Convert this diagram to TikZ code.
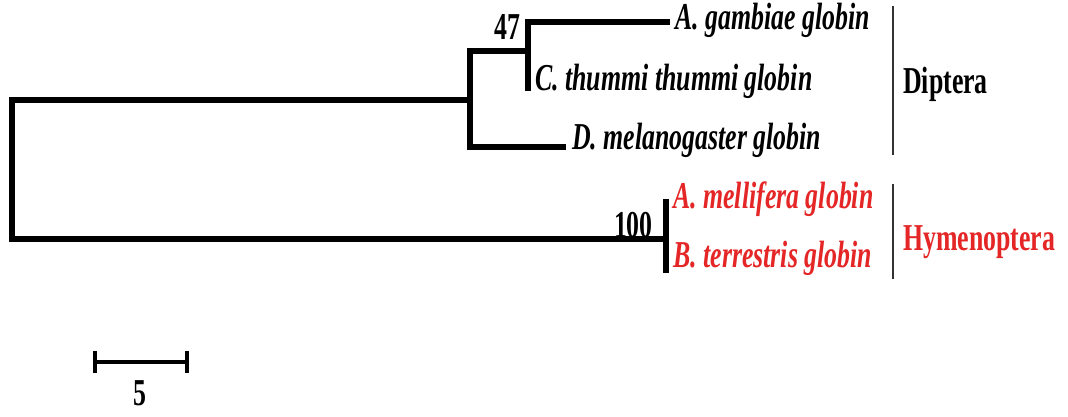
\documentclass[tikz,border=0pt]{standalone}
\usepackage{fontspec}
\setmainfont{Liberation Serif}[FakeStretch=0.68]
\definecolor{hymred}{RGB}{228,38,38}
\definecolor{sepgray}{RGB}{50,50,50}
\begin{document}
\begin{tikzpicture}[x=1pt,y=-1pt,
  branch/.style={line width=5.2pt,line cap=rect,line join=miter},
  sepline/.style={line width=1.6pt,sepgray},
  taxon/.style={anchor=base west,inner sep=0pt,font=\fontsize{38}{42}\selectfont\bfseries\itshape},
  grouplab/.style={anchor=base west,inner sep=0pt,font=\fontsize{38}{42}\selectfont\bfseries},
  boot/.style={anchor=base east,inner sep=0pt,font=\fontsize{38}{42}\selectfont\bfseries}]
\useasboundingbox (0,0) rectangle (1068,416);
% tree coordinates
\coordinate (rtop) at (12,100);
\coordinate (rbot) at (12,239);
\coordinate (n1) at (470,100);
\coordinate (n1t) at (470,51);
\coordinate (n1b) at (470,147);
\coordinate (n2) at (528,51);
\coordinate (n2t) at (528,22);
\coordinate (n2b) at (528,88);
\coordinate (n3) at (666,239);
\coordinate (n3t) at (666,202);
\coordinate (n3b) at (666,270);
\coordinate (agam) at (667,22);
\coordinate (dmel) at (563,147);
% taxa
\node[taxon] (tA) at (675,29) {A. gambiae globin};
\node[taxon] (tC) at (535,90) {C. thummi thummi globin};
\node[taxon] (tD) at (572,149) {D. melanogaster globin};
\node[taxon,text=hymred] (tM) at (673,208) {A. mellifera globin};
\node[taxon,text=hymred] (tB) at (673,267) {B. terrestris globin};
% branches
\draw[branch] (n1) -- (rtop) -- (rbot) -- (n3);
\draw[branch] (n2) -- (n1t) -- (n1b) -- (dmel);
\draw[branch] (agam) -- (n2t) -- (n2b);
\draw[branch] (n3t) -- (n3b);
% bootstrap values
\node[boot] (b47) at (521,39) {47};
\node[boot] (b100) at (653,237) {100};
% group separators
\coordinate (dipT) at (893,6);
\coordinate (dipB) at (893,155);
\coordinate (hymT) at (893,184);
\coordinate (hymB) at (893,279);
\draw[sepline] (dipT) -- (dipB);
\draw[sepline] (hymT) -- (hymB);
\node[grouplab] (gD) at (903,93) {Diptera};
\node[grouplab,text=hymred] (gH) at (903,250) {Hymenoptera};
% scale bar
\coordinate (s1) at (95,362);
\coordinate (s2) at (187,362);
\draw[line width=4pt] (s1) -- (s2);
\draw[line width=4pt] ([yshift=-11pt]s1) -- ([yshift=11pt]s1);
\draw[line width=4pt] ([yshift=-11pt]s2) -- ([yshift=11pt]s2);
\node[anchor=base,inner sep=0pt,font=\fontsize{38}{42}\selectfont\bfseries] (sl) at (140,405) {5};
\end{tikzpicture}
\end{document}
